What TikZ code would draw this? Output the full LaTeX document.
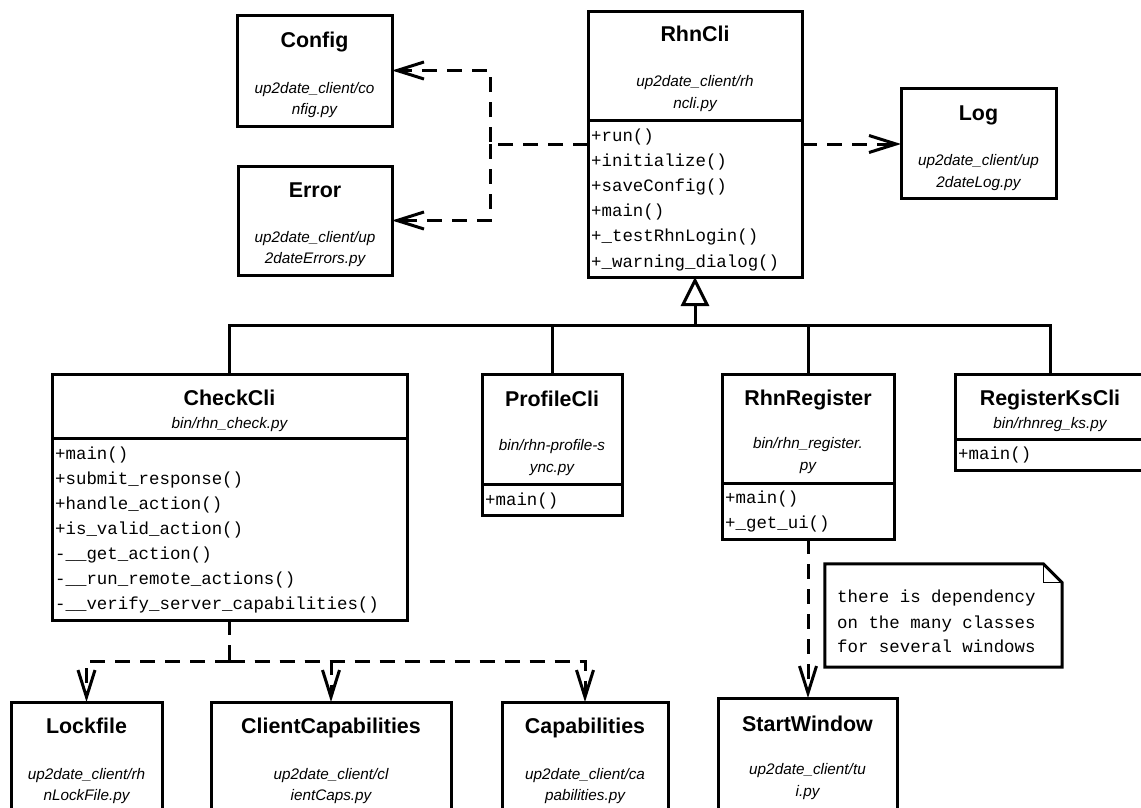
\documentclass[tikz,border=0pt]{standalone}
\usepackage{fontspec}
\setmainfont{Liberation Sans}
\newfontfamily\monof{Liberation Mono}
\usetikzlibrary{arrows.meta}
\begin{document}
\begin{tikzpicture}[x=1pt,y=-1pt,
  cls/.style={draw, line width=3pt, inner sep=0pt, outer sep=0pt, fill=white, rectangle},
  ttl/.style={font=\fontsize{21.4}{25}\selectfont\bfseries, inner sep=0pt, anchor=base},
  pth/.style={font=\fontsize{15.3}{22}\selectfont\itshape, inner sep=0pt, anchor=base},
  meth/.style={font=\fontsize{17.4}{25}\selectfont\monof, inner sep=0pt, anchor=base west},
  bar/.style={line width=3pt},
  dashline/.style={line width=3pt, dash pattern=on 15pt off 10pt},
  dep/.style={dashline, -{Straight Barb[length=27pt,width=17pt]}},
  inh/.style={line width=3pt, -{Triangle[open,length=29pt,width=28pt]}}
]
\useasboundingbox (0,0) rectangle (1141,807);
\fill[white] (0,0) rectangle (1141,807);
\clip (0,0) rectangle (1141,807);

% ---------- boxes ----------
\node[cls, minimum width=155pt, minimum height=111pt] (config) at (314.5,70.5) {};
\node[cls, minimum width=154pt, minimum height=109pt] (error) at (315,220.5) {};
\node[cls, minimum width=214pt, minimum height=266pt] (rhncli) at (695,144) {};
\node[cls, minimum width=155pt, minimum height=110pt] (log) at (978.5,143) {};
\node[cls, minimum width=355pt, minimum height=246pt] (checkcli) at (229.5,497) {};
\node[cls, minimum width=140pt, minimum height=141pt] (profile) at (552,444.5) {};
\node[cls, minimum width=172pt, minimum height=165pt] (rhnreg) at (808,456.5) {};
\node[cls, minimum width=190pt, minimum height=96pt] (regks) at (1050,422) {};
\node[cls, minimum width=179pt, minimum height=142pt] (startw) at (807.5,769) {};
\node[cls, minimum width=151pt, minimum height=138pt] (lockfile) at (86.5,771) {};
\node[cls, minimum width=240pt, minimum height=138pt] (clientcap) at (331,771) {};
\node[cls, minimum width=166pt, minimum height=138pt] (capab) at (585,771) {};

% ---------- dividers ----------
\draw[bar] (rhncli.west |- 0,120) -- (rhncli.east |- 0,120);
\draw[bar] (checkcli.west |- 0,438) -- (checkcli.east |- 0,438);
\draw[bar] (profile.west |- 0,484) -- (profile.east |- 0,484);
\draw[bar] (rhnreg.west |- 0,483) -- (rhnreg.east |- 0,483);
\draw[bar] (regks.west |- 0,439) -- (regks.east |- 0,439);

% ---------- texts ----------
\node[ttl] (config-t) at (314.5,47.5) {Config};
\node[pth] (config-p1) at (314.5,93.5) {up2date\_client/co};
\node[pth] (config-p2) at (314.5,114) {nfig.py};

\node[ttl] (error-t) at (315,197.5) {Error};
\node[pth] (error-p1) at (315,242.5) {up2date\_client/up};
\node[pth] (error-p2) at (315,263.5) {2dateErrors.py};

\node[ttl] (rhncli-t) at (695,41) {RhnCli};
\node[pth] (rhncli-p1) at (695,86.5) {up2date\_client/rh};
\node[pth] (rhncli-p2) at (695,108.5) {ncli.py};
\foreach \m [count=\i from 0] in {+run(),+initialize(),+saveConfig(),+main(),+\_testRhnLogin(),+\_warning\_dialog()}
  \node[meth] (rhncli-m\i) at (591,141+25.2*\i) {\m};

\node[ttl] (log-t) at (978.5,120.5) {Log};
\node[pth] (log-p1) at (978.5,165.5) {up2date\_client/up};
\node[pth] (log-p2) at (978.5,187.5) {2dateLog.py};

\node[ttl] (checkcli-t) at (229.5,405.5) {CheckCli};
\node[pth] (checkcli-p1) at (229.5,428) {bin/rhn\_check.py};
\foreach \m [count=\i from 0] in {+main(),+submit\_response(),+handle\_action(),+is\_valid\_action(),-\_\_get\_action(),-\_\_run\_remote\_actions(),-\_\_verify\_server\_capabilities()}
  \node[meth] (checkcli-m\i) at (55,459+25*\i) {\m};

\node[ttl] (profile-t) at (552,406) {ProfileCli};
\node[pth] (profile-p1) at (552,450.5) {bin/rhn-profile-s};
\node[pth] (profile-p2) at (552,472.5) {ync.py};
\node[meth] (profile-m0) at (485,505) {+main()};

\node[ttl] (rhnreg-t) at (808,405) {RhnRegister};
\node[pth] (rhnreg-p1) at (808,448) {bin/rhn\_register.};
\node[pth] (rhnreg-p2) at (808,470.5) {py};
\node[meth] (rhnreg-m0) at (725,503) {+main()};
\node[meth] (rhnreg-m1) at (725,528) {+\_get\_ui()};

\node[ttl] (regks-t) at (1050,405) {RegisterKsCli};
\node[pth] (regks-p1) at (1050,428) {bin/rhnreg\_ks.py};
\node[meth] (regks-m0) at (958,459) {+main()};

\node[ttl] (startw-t) at (807.5,731) {StartWindow};
\node[pth] (startw-p1) at (807.5,774) {up2date\_client/tu};
\node[pth] (startw-p2) at (807.5,796) {i.py};

\node[ttl] (lockfile-t) at (86.5,733.5) {Lockfile};
\node[pth] (lockfile-p1) at (86.5,779) {up2date\_client/rh};
\node[pth] (lockfile-p2) at (86.5,800) {nLockFile.py};

\node[ttl] (clientcap-t) at (331,733.5) {ClientCapabilities};
\node[pth] (clientcap-p1) at (331,779) {up2date\_client/cl};
\node[pth] (clientcap-p2) at (331,800) {ientCaps.py};

\node[ttl] (capab-t) at (585,733.5) {Capabilities};
\node[pth] (capab-p1) at (585,779) {up2date\_client/ca};
\node[pth] (capab-p2) at (585,800) {pabilities.py};

% ---------- note ----------
\node[inner sep=0pt, minimum width=237pt, minimum height=103pt] (note) at (943.5,615.5) {};
\draw[line width=3pt, line join=miter] (note.north west) -- ([xshift=-19pt]note.north east)
  -- ([yshift=-19pt]note.north east) -- (note.south east) -- (note.south west) -- cycle;
\draw[line width=1.2pt] ([xshift=-19pt]note.north east) -- ([xshift=-19pt,yshift=-19pt]note.north east)
  -- ([yshift=-19pt]note.north east);
\node[meth] (note-l1) at (837,602) {there is dependency};
\node[meth] (note-l2) at (837,628) {on the many classes};
\node[meth] (note-l3) at (837,652) {for several windows};

% ---------- dependencies ----------
\coordinate (jl) at (490,144);
\draw[dep] (rhncli.west) -- (jl) |- (config.east);
\draw[dep] (jl) |- (error.east);
\draw[dep] (rhncli.east) -- (rhncli.east -| log.west);

\coordinate (jb) at (229.5,661);
\draw[dashline] (checkcli.south) -- (jb);
\draw[dep] (jb) -| (lockfile.north);
\draw[dep] (jb) -| (clientcap.north);
\draw[dep] (jb) -| (capab.north);

\draw[dep] (rhnreg.south) -- (rhnreg.south |- startw.north);

% ---------- inheritance ----------
\coordinate (bus) at (695,325);
\draw[bar] (checkcli.north) |- (bus) -| (regks.north);
\draw[bar] (profile.north) -- (profile.north |- bus);
\draw[bar] (rhnreg.north) -- (rhnreg.north |- bus);
\draw[inh] (bus) -- (rhncli.south);
\end{tikzpicture}
\end{document}
